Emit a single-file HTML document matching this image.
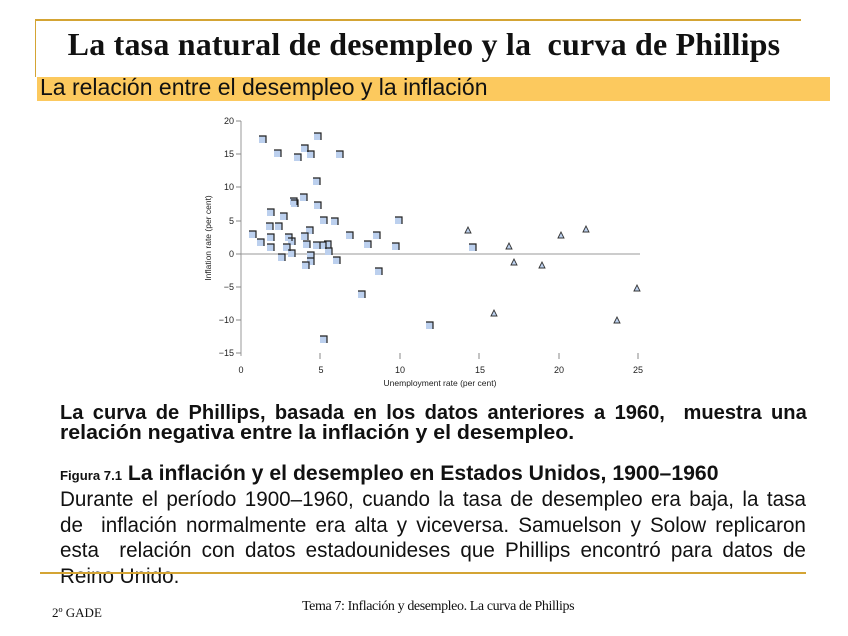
<!DOCTYPE html>
<html><head><meta charset="utf-8"><style>
body{margin:0;width:848px;height:636px;background:#fff;position:relative;overflow:hidden;font-family:"Liberation Sans",sans-serif}
.abs{position:absolute}
.ln{position:absolute;left:60px;transform-origin:0 0;text-align:justify;text-align-last:justify;white-space:nowrap;color:#111}
.b{width:762px;transform:scaleX(0.98);font-weight:bold;font-size:20.5px;line-height:21px}
.r{width:777px;transform:scaleX(0.96);font-size:21.5px;line-height:25px}
</style></head><body>
<div class="abs" style="left:35px;top:19px;width:766px;height:2px;background:#d4a434"></div>
<div class="abs" style="left:35px;top:19px;width:1px;height:58px;background:#d4a434"></div>
<div class="abs" style="left:0;top:26px;width:848px;text-align:center;font-family:'Liberation Serif',serif;font-weight:bold;font-size:32px;color:#111;letter-spacing:0.2px">La tasa natural de desempleo y la&nbsp; curva de Phillips</div>
<div class="abs" style="left:37px;top:77px;width:793px;height:24px;background:#fcc95e"></div>
<div class="abs" style="left:40px;top:74px;font-size:23px;color:#111;transform:scaleX(1.0);transform-origin:0 0">La relación entre el desempleo y la inflación</div>

<svg class="abs" style="left:0;top:0" width="848" height="400" font-family="Liberation Sans, sans-serif" font-size="9" fill="#222">
<line x1="241" y1="121" x2="241" y2="356" stroke="#999" stroke-width="1"/>
<line x1="241" y1="254" x2="640" y2="254" stroke="#999" stroke-width="1"/>
<g stroke="#888">
<line x1="236" y1="121" x2="241" y2="121"/><line x1="236" y1="154" x2="241" y2="154"/><line x1="236" y1="187" x2="241" y2="187"/><line x1="236" y1="221" x2="241" y2="221"/><line x1="236" y1="254" x2="241" y2="254"/><line x1="236" y1="287" x2="241" y2="287"/><line x1="236" y1="320" x2="241" y2="320"/><line x1="236" y1="353" x2="241" y2="353"/>
<line x1="320" y1="353" x2="320" y2="359"/><line x1="400" y1="353" x2="400" y2="359"/><line x1="479" y1="353" x2="479" y2="359"/><line x1="559" y1="353" x2="559" y2="359"/><line x1="638" y1="353" x2="638" y2="359"/>
</g>
<g text-anchor="end"><text x="234" y="124">20</text><text x="234" y="157">15</text><text x="234" y="190">10</text><text x="234" y="224">5</text><text x="234" y="257">0</text><text x="234" y="290">−5</text><text x="234" y="323">−10</text><text x="234" y="356">−15</text></g>
<g text-anchor="middle"><text x="241" y="373">0</text><text x="321" y="373">5</text><text x="400" y="373">10</text><text x="480" y="373">15</text><text x="559" y="373">20</text><text x="638" y="373">25</text>
<text x="440" y="386" font-size="8.5">Unemployment rate (per cent)</text>
<text transform="translate(211,238) rotate(-90)" font-size="8.5">Inflation rate (per cent)</text></g>
<g fill="#bcd0ee">
<rect x="259" y="136" width="7" height="7"/><rect x="314" y="133" width="7" height="7"/><rect x="274" y="150" width="7" height="7"/><rect x="301" y="145" width="7" height="7"/><rect x="294" y="154" width="7" height="7"/><rect x="307" y="151" width="7" height="7"/><rect x="336" y="151" width="7" height="7"/><rect x="313" y="178" width="7" height="7"/><rect x="300" y="194" width="7" height="7"/><rect x="290" y="198" width="7" height="7"/><rect x="291" y="200" width="7" height="7"/><rect x="314" y="202" width="7" height="7"/><rect x="267" y="209" width="7" height="7"/><rect x="280" y="213" width="7" height="7"/><rect x="320" y="217" width="7" height="7"/><rect x="331" y="218" width="7" height="7"/><rect x="395" y="217" width="7" height="7"/><rect x="249" y="231" width="7" height="7"/><rect x="266" y="223" width="7" height="7"/><rect x="275" y="223" width="7" height="7"/><rect x="257" y="239" width="7" height="7"/><rect x="267" y="234" width="7" height="7"/><rect x="285" y="234" width="7" height="7"/><rect x="288" y="238" width="7" height="7"/><rect x="301" y="233" width="7" height="7"/><rect x="306" y="227" width="7" height="7"/><rect x="313" y="242" width="7" height="7"/><rect x="319" y="242" width="7" height="7"/><rect x="324" y="241" width="7" height="7"/><rect x="325" y="248" width="7" height="7"/><rect x="267" y="244" width="7" height="7"/><rect x="283" y="244" width="7" height="7"/><rect x="288" y="250" width="7" height="7"/><rect x="303" y="241" width="7" height="7"/><rect x="307" y="252" width="7" height="7"/><rect x="278" y="254" width="7" height="7"/><rect x="307" y="258" width="7" height="7"/><rect x="302" y="262" width="7" height="7"/><rect x="333" y="257" width="7" height="7"/><rect x="346" y="232" width="7" height="7"/><rect x="364" y="241" width="7" height="7"/><rect x="373" y="232" width="7" height="7"/><rect x="392" y="243" width="7" height="7"/><rect x="375" y="268" width="7" height="7"/><rect x="358" y="291" width="7" height="7"/><rect x="320" y="336" width="7" height="7"/><rect x="426" y="322" width="7" height="7"/><rect x="469" y="244" width="7" height="7"/>
</g>
<g fill="none" stroke="#222" stroke-width="1.2">
<path d="M259 136h7v7M314 133h7v7M274 150h7v7M301 145h7v7M294 154h7v7M307 151h7v7M336 151h7v7M313 178h7v7M300 194h7v7M290 198h7v7M291 200h7v7M314 202h7v7M267 209h7v7M280 213h7v7M320 217h7v7M331 218h7v7M395 217h7v7M249 231h7v7M266 223h7v7M275 223h7v7M257 239h7v7M267 234h7v7M285 234h7v7M288 238h7v7M301 233h7v7M306 227h7v7M313 242h7v7M319 242h7v7M324 241h7v7M325 248h7v7M267 244h7v7M283 244h7v7M288 250h7v7M303 241h7v7M307 252h7v7M278 254h7v7M307 258h7v7M302 262h7v7M333 257h7v7M346 232h7v7M364 241h7v7M373 232h7v7M392 243h7v7M375 268h7v7M358 291h7v7M320 336h7v7M426 322h7v7M469 244h7v7"/>
</g>
<g fill="#bcd0ee" stroke="#333" stroke-width="0.9">
<path d="M465 233l3-6 3 6z"/><path d="M506 249l3-6 3 6z"/><path d="M511 265l3-6 3 6z"/><path d="M539 268l3-6 3 6z"/><path d="M558 238l3-6 3 6z"/><path d="M583 232l3-6 3 6z"/><path d="M491 316l3-6 3 6z"/><path d="M614 323l3-6 3 6z"/><path d="M634 291l3-6 3 6z"/>
</g>
</svg>

<div class="ln b" style="top:402px">La curva de Phillips, basada en los datos anteriores a 1960,&nbsp; muestra una</div>
<div class="ln b" style="top:422px;text-align-last:left;transform:scaleX(1.04)">relación negativa entre la inflación y el desempleo.</div>
<div class="ln b" style="top:462px;font-size:21px;line-height:24px;text-align-last:left;transform:scaleX(1.01)"><span style="font-size:13px">Figura 7.1</span> La inflación y el desempleo en Estados Unidos, 1900–1960</div>
<div class="ln r" style="top:487px">Durante el período 1900–1960, cuando la tasa de desempleo era baja, la tasa</div>
<div class="ln r" style="top:512.5px">de&nbsp; inflación normalmente era alta y viceversa. Samuelson y Solow replicaron</div>
<div class="ln r" style="top:538px">esta&nbsp; relación con datos estadounideses que Phillips encontró para datos de</div>
<div class="ln r" style="top:563.5px;text-align-last:left">Reino Unido.</div>
<div class="abs" style="left:40px;top:572px;width:766px;height:2px;background:#d4a434"></div>
<div class="abs" style="left:52px;top:605px;font-family:'Liberation Serif',serif;font-size:13px;color:#111">2º GADE</div>
<div class="abs" style="left:302px;top:599px;font-family:'Liberation Serif',serif;font-size:14px;color:#111;letter-spacing:-0.4px">Tema 7: Inflación y desempleo. La curva de Phillips</div>
</body></html>
